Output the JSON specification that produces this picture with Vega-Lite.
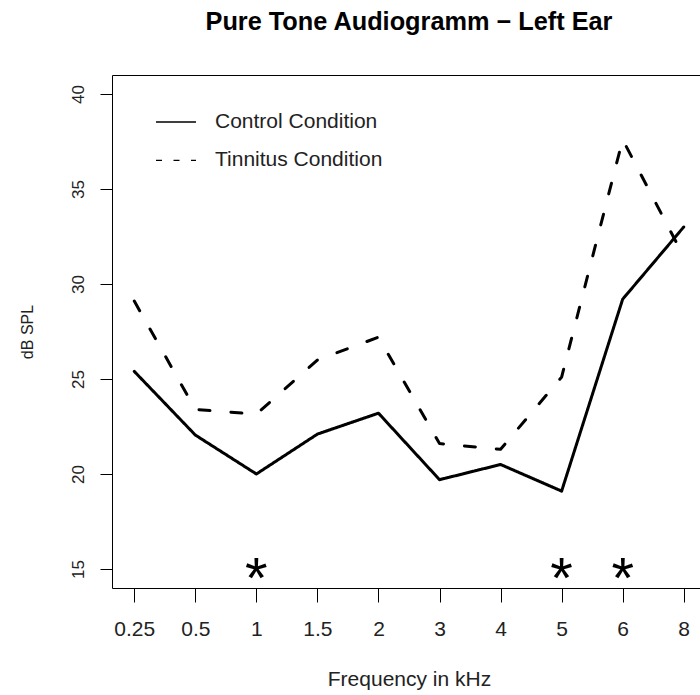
{
  "$schema": "https://vega.github.io/schema/vega-lite/v6.json",
  "width": 594,
  "height": 513,
  "autosize": {"type": "none"},
  "padding": {"left": 112, "top": 75, "right": 0, "bottom": 107},
  "background": "white",
  "config": {
    "font": "Liberation Sans",
    "view": {"stroke": "black", "strokeWidth": 1}
  },
  "title": {
    "text": "Pure Tone Audiogramm − Left Ear",
    "font": "Liberation Sans",
    "fontSize": 25.3,
    "fontWeight": "bold",
    "color": "black",
    "baseline": "alphabetic",
    "anchor": "middle",
    "offset": 20
  },
  "datasets": {
    "curves": [
      {"freq": "0.25", "db": 25.4, "condition": "Control Condition"},
      {"freq": "0.5", "db": 22.05, "condition": "Control Condition"},
      {"freq": "1", "db": 20.0, "condition": "Control Condition"},
      {"freq": "1.5", "db": 22.1, "condition": "Control Condition"},
      {"freq": "2", "db": 23.2, "condition": "Control Condition"},
      {"freq": "3", "db": 19.7, "condition": "Control Condition"},
      {"freq": "4", "db": 20.5, "condition": "Control Condition"},
      {"freq": "5", "db": 19.1, "condition": "Control Condition"},
      {"freq": "6", "db": 29.2, "condition": "Control Condition"},
      {"freq": "8", "db": 33.0, "condition": "Control Condition"},
      {"freq": "0.25", "db": 29.1, "condition": "Tinnitus Condition"},
      {"freq": "0.5", "db": 23.4, "condition": "Tinnitus Condition"},
      {"freq": "1", "db": 23.15, "condition": "Tinnitus Condition"},
      {"freq": "1.5", "db": 26.0, "condition": "Tinnitus Condition"},
      {"freq": "2", "db": 27.2, "condition": "Tinnitus Condition"},
      {"freq": "3", "db": 21.6, "condition": "Tinnitus Condition"},
      {"freq": "4", "db": 21.3, "condition": "Tinnitus Condition"},
      {"freq": "5", "db": 25.1, "condition": "Tinnitus Condition"},
      {"freq": "6", "db": 37.6, "condition": "Tinnitus Condition"},
      {"freq": "8", "db": 31.45, "condition": "Tinnitus Condition"}
    ],
    "sig": [
      {"freq": "1", "db": 15, "label": "*"},
      {"freq": "5", "db": 15, "label": "*"},
      {"freq": "6", "db": 15, "label": "*"}
    ]
  },
  "resolve": {"scale": {"strokeDash": "independent"}, "legend": {"strokeDash": "independent"}},
  "layer": [
    {
      "data": {"name": "curves"},
      "mark": {"type": "line", "strokeWidth": 3, "color": "black", "strokeCap": "round", "strokeJoin": "round"},
      "encoding": {
        "x": {
          "field": "freq",
          "type": "ordinal",
          "scale": {"type": "point", "domain": ["0.25", "0.5", "1", "1.5", "2", "3", "4", "5", "6", "8"], "padding": 0.365},
          "axis": {
            "title": "Frequency in kHz",
            "domain": false,
            "grid": false,
            "tickSize": 14,
            "tickColor": "black",
            "tickWidth": 1,
            "labelAngle": 0,
            "labelFontSize": 21,
            "labelColor": "#222",
            "labelBaseline": "alphabetic",
            "labelPadding": 33,
            "titleFontSize": 21,
            "titleFontWeight": "normal",
            "titleColor": "#222",
            "titleBaseline": "alphabetic",
            "titleY": 97
          }
        },
        "y": {
          "field": "db",
          "type": "quantitative",
          "scale": {"domain": [14, 41], "nice": false, "zero": false},
          "axis": {
            "title": "dB SPL",
            "values": [15, 20, 25, 30, 35, 40],
            "domain": false,
            "grid": false,
            "tickSize": 12,
            "tickColor": "black",
            "tickWidth": 1,
            "labelAngle": 270,
            "labelAlign": "center",
            "labelBaseline": "alphabetic",
            "labelPadding": 17,
            "labelFontSize": 17,
            "labelColor": "#222",
            "titleFontSize": 16,
            "titleFontWeight": "normal",
            "titleColor": "#222",
            "titleAngle": 270,
            "titleAlign": "center",
            "titleBaseline": "alphabetic",
            "titleX": -80,
            "titleY": 256.5
          }
        },
        "strokeDash": {
          "field": "condition",
          "type": "nominal",
          "scale": {"domain": ["Control Condition", "Tinnitus Condition"], "range": [[1, 0], [11, 21]]},
          "legend": null
        }
      }
    },
    {
      "data": {"name": "curves"},
      "transform": [{"filter": "datum.db < 0"}],
      "mark": {"type": "line", "strokeWidth": 1.3, "color": "black"},
      "encoding": {
        "x": {"field": "freq", "type": "ordinal"},
        "y": {"field": "db", "type": "quantitative"},
        "strokeDash": {
          "field": "condition",
          "type": "nominal",
          "scale": {"domain": ["Control Condition", "Tinnitus Condition"], "range": [[1, 0], [6, 11.5]]},
          "legend": {
            "title": null,
            "orient": "none",
            "legendX": 43,
            "legendY": 26,
            "padding": 0,
            "symbolType": "stroke",
            "symbolSize": 1600,
            "symbolStrokeWidth": 1.3,
            "symbolStrokeColor": "black",
            "labelFontSize": 21,
            "labelColor": "#222",
            "labelOffset": 18,
            "labelLimit": 400,
            "rowPadding": 7.3
          }
        }
      }
    },
    {
      "data": {"name": "sig"},
      "mark": {"type": "text", "fontSize": 58, "baseline": "alphabetic", "align": "center", "dy": 29, "color": "black", "font": "Liberation Sans"},
      "encoding": {
        "x": {"field": "freq", "type": "ordinal"},
        "y": {"field": "db", "type": "quantitative"},
        "text": {"field": "label"}
      }
    }
  ]
}
